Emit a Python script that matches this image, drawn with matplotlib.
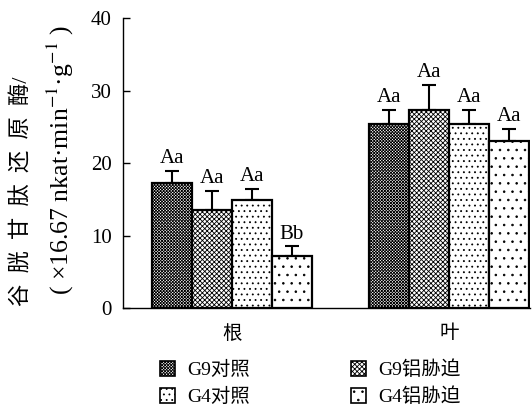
import matplotlib.pyplot as plt
import matplotlib.patches as mpatches
import numpy as np

plt.rcParams['font.family'] = ['Liberation Serif', 'Noto Sans CJK SC']
plt.rcParams['mathtext.fontset'] = 'stix'
plt.rcParams['hatch.linewidth'] = 0.6

# GR activity, root and leaf
organs = ['根', '叶']
groups = ['G9对照', 'G9铝胁迫', 'G4对照', 'G4铝胁迫']
root_mean = [17.2, 13.6, 14.9, 7.2]
root_err = [1.7, 2.6, 1.6, 1.3]
leaf_mean = [25.4, 27.4, 25.4, 23.1]
leaf_err = [2.0, 3.4, 2.0, 1.6]
root_sig = ['Aa', 'Aa', 'Aa', 'Bb']
leaf_sig = ['Aa', 'Aa', 'Aa', 'Aa']

hatches = ['x' * 11, 'x' * 7, '...', '..']

fig = plt.figure(figsize=(5.32, 4.12), dpi=100)
ax = fig.add_axes([0.231, 0.2524, 0.765, 0.7032])

x = np.arange(len(organs))
w = 0.184
means = np.array([root_mean, leaf_mean])
errs = np.array([root_err, leaf_err])
sigs = [root_sig, leaf_sig]

for i in range(len(groups)):
    xi = x + (i - 1.5) * w
    ax.bar(xi, means[:, i], width=w, color='white', edgecolor='black',
           linewidth=1.6, hatch=hatches[i], zorder=2)
    ax.errorbar(xi, means[:, i], yerr=[np.zeros(len(organs)), errs[:, i]],
                fmt='none', ecolor='black', elinewidth=1.5, capsize=5,
                capthick=1.5, zorder=1)
    for j in range(len(organs)):
        ax.annotate(sigs[j][i], (xi[j], means[j, i] + errs[j, i]),
                    xytext=(0, 2), textcoords='offset points',
                    ha='center', va='bottom', fontsize=15)

ax.set_xlim(-0.501, 1.37)
ax.set_ylim(0, 40)
ax.set_yticks([0, 10, 20, 30, 40])
ax.set_xticks(x)
ax.set_xticklabels(organs, fontsize=14)
ax.tick_params(axis='x', length=0, pad=12)
ax.tick_params(axis='y', direction='in', length=5, width=1, labelsize=15, pad=8)
ax.spines['top'].set_visible(False)
ax.spines['right'].set_visible(False)
ax.spines['left'].set_linewidth(1)
ax.spines['bottom'].set_linewidth(1)

fig.text(0.042, 0.535, '谷  胱  甘  肽  还  原  酶/', rotation=90, ha='center',
         va='center', fontsize=16)
fig.text(0.113, 0.612, '( ×16.67 nkat·min$^{-1}$·g$^{-1}$ )', rotation=90,
         ha='center', va='center', fontsize=18.5)

# legend fills column-wise, so order G9 row first
order = [0, 2, 1, 3]
handles = [mpatches.Patch(facecolor='white', edgecolor='black', linewidth=1.2,
                          hatch=hatches[k], label=groups[k]) for k in order]
ax.legend(handles=handles, ncol=2, loc='upper center',
          bbox_to_anchor=(0.46, -0.12), frameon=False, fontsize=14,
          handlelength=0.8, handleheight=0.8, handletextpad=0.6,
          columnspacing=5.2, labelspacing=0.45)

fig.savefig('out.png', dpi=100)
